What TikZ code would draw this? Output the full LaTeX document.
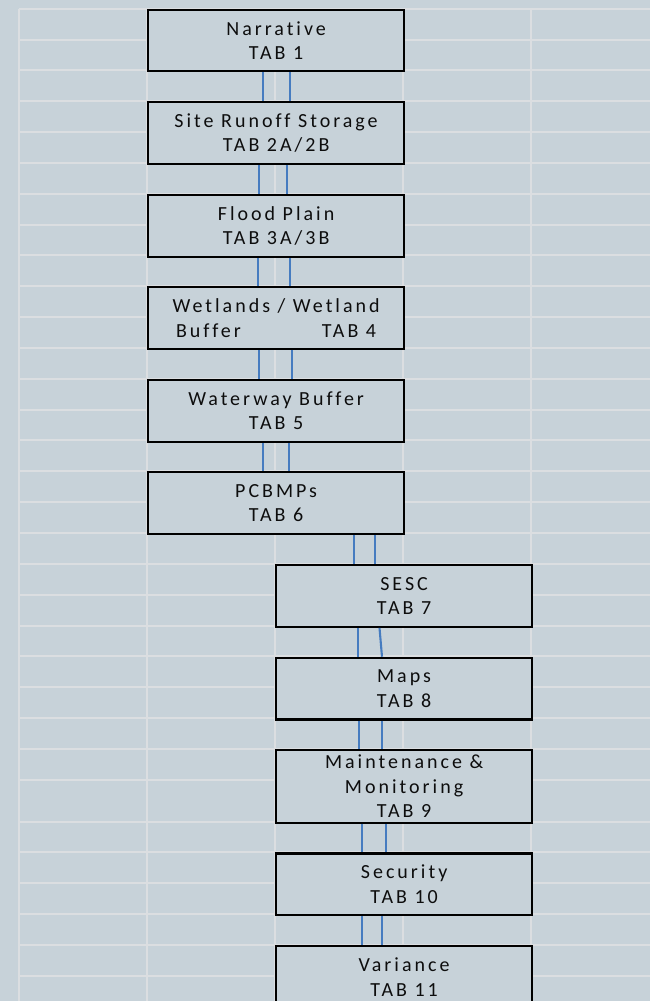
\documentclass[tikz,border=0pt]{standalone}
\usepackage{fontspec}
\setmainfont[LetterSpace=15,Ligatures=NoCommon]{Carlito}
\definecolor{bg}{RGB}{199,210,217}
\definecolor{gridc}{RGB}{219,222,225}
\definecolor{conn}{RGB}{70,124,192}
\begin{document}
\begin{tikzpicture}[x=1pt,y=-1pt,
  box/.style={draw=black, line width=2.2pt, fill=bg, minimum width=256pt, inner sep=0pt,
    anchor=north west, align=center, font=\fontsize{20}{24.5}\selectfont, text=black!95},
  link/.style={draw=conn, line width=2.1pt},
  gridl/.style={draw=gridc, line width=2pt}]
\fill[bg] (0,0) rectangle (650,1001);
\useasboundingbox (0,0) rectangle (650,1001);
\begin{scope}
\clip (0,0) rectangle (650,1001);
% spreadsheet grid
\foreach \k in {0,...,25} \draw[gridl] (19,{8.7+30.84*\k}) -- (650,{8.7+30.84*\k});
\foreach \yy in {821.7,852.3,883,914,945,976} \draw[gridl] (19,\yy) -- (650,\yy);
\foreach \xx in {19,147,275,403,531} \draw[gridl] (\xx,8.7) -- (\xx,1001);
% boxes
\node[box, minimum height=61.3pt] (n1) at (147,8.7) {Narrative\\TAB 1};
\node[box, minimum height=62pt] (n2) at (147,100.7) {Site Runoff Storage\\TAB 2A/2B};
\node[box, minimum height=62pt] (n3) at (147,193.7) {Flood Plain\\TAB 3A/3B};
\node[box, minimum height=61.7pt] (n4) at (147,286) {Wetlands / Wetland\\\makebox[200pt]{Buffer\hfill TAB 4}};
\node[box, minimum height=62pt] (n5) at (147,378.7) {Waterway Buffer\\TAB 5};
\node[box, minimum height=61.7pt] (n6) at (147,471) {PCBMPs\\TAB 6};
\node[box, minimum height=62pt] (n7) at (275,563.7) {SESC\\TAB 7};
\node[box, minimum height=61.6pt] (n8) at (275,656.7) {Maps\\TAB 8};
\node[box, minimum height=73pt] (n9) at (275,748.7) {Maintenance \&\\Monitoring\\TAB 9};
\node[box, minimum height=61.7pt] (n10) at (275,852.3) {Security\\TAB 10};
\node[box, minimum height=62pt] (n11) at (275,945) {Variance\\TAB 11};
% connectors (double blue lines)
\draw[link] (n1.south -| 263.3,0) -- (n2.north -| 263.3,0);
\draw[link] (n1.south -| 290,0) -- (n2.north -| 290,0);
\draw[link] (n2.south -| 259.3,0) -- (n3.north -| 259.3,0);
\draw[link] (n2.south -| 287.3,0) -- (n3.north -| 287.3,0);
\draw[link] (n3.south -| 258.3,0) -- (n4.north -| 258.3,0);
\draw[link] (n3.south -| 290,0) -- (n4.north -| 290,0);
\draw[link] (n4.south -| 259.3,0) -- (n5.north -| 259.3,0);
\draw[link] (n4.south -| 291.7,0) -- (n5.north -| 291.7,0);
\draw[link] (n5.south -| 263,0) -- (n6.north -| 263,0);
\draw[link] (n5.south -| 289,0) -- (n6.north -| 289,0);
\draw[link] (n6.south -| 354,0) -- (n7.north -| 354,0);
\draw[link] (n6.south -| 375.3,0) -- (n7.north -| 375.3,0);
\draw[link] (n7.south -| 357.7,0) -- (n8.north -| 357.7,0);
\draw[link] (n7.south -| 379.5,0) -- (n8.north -| 382,0);
\draw[link] (n8.south -| 359.3,0) -- (n9.north -| 359.3,0);
\draw[link] (n8.south -| 382,0) -- (n9.north -| 382,0);
\draw[link] (n9.south -| 362,0) -- (n10.north -| 362,0);
\draw[link] (n9.south -| 385.7,0) -- (n10.north -| 385.7,0);
\draw[link] (n10.south -| 361.7,0) -- (n11.north -| 361.7,0);
\draw[link] (n10.south -| 382,0) -- (n11.north -| 382,0);
\end{scope}
\end{tikzpicture}
\end{document}
